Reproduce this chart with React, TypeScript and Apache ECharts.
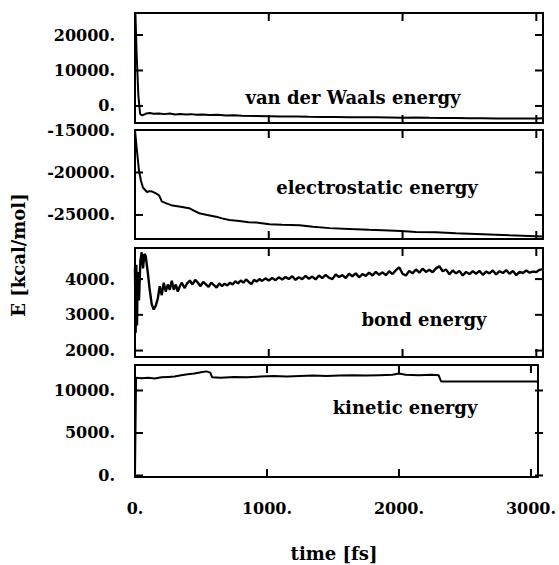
import React, { useEffect, useRef } from "react";
import * as echarts from "echarts";

// ---- data (time in fs, energy in kcal/mol) ----
const xTicks = [0, 1000, 2000, 3000];

const vdwTicks = [0, 10000, 20000];
const vdwData: [number, number][] = [
  [0, 30000], [12, 15000], [25, 3000], [38, -2200], [50, -2600], [65, -2500],
  [85, -2100], [110, -2000], [140, -2200], [180, -2100], [220, -2300], [260, -2150],
  [300, -2400], [340, -2250], [380, -2400], [420, -2300], [460, -2500], [500, -2400],
  [560, -2550], [620, -2500], [680, -2700], [740, -2650], [800, -2750], [900, -2800],
  [1000, -2900], [1100, -3000], [1200, -2950], [1300, -3050], [1400, -3100], [1500, -3100],
  [1600, -3150], [1700, -3200], [1800, -3200], [1900, -3250], [2000, -3300], [2100, -3250],
  [2200, -3350], [2300, -3400], [2400, -3400], [2500, -3450], [2600, -3450], [2700, -3500],
  [2800, -3500], [2900, -3550], [3000, -3550], [3050, -3450],
];

const elecTicks = [-25000, -20000, -15000];
const elecData: [number, number][] = [
  [0, -15000], [15, -17500], [30, -19800], [45, -21000], [60, -21800], [90, -22300],
  [110, -22200], [130, -22250], [160, -22500], [180, -22700], [200, -23400], [230, -23600],
  [280, -23900], [330, -24000], [405, -24200], [440, -24500], [480, -24800], [540, -25000],
  [606, -25200], [650, -25400], [705, -25600], [780, -25700], [850, -25850], [906, -25900],
  [1005, -26100], [1100, -26150], [1230, -26200], [1330, -26400], [1455, -26550], [1600, -26650],
  [1750, -26750], [1850, -26800], [1990, -26900], [2100, -27000], [2250, -27050], [2400, -27150],
  [2500, -27200], [2650, -27300], [2800, -27400], [2990, -27500], [3050, -27550],
];

const bondTicks = [2000, 3000, 4000];
const bondData: [number, number][] = [
  [0, 4300], [5, 2500], [10, 4400], [15, 2700], [20, 4200], [30, 3400], [40, 4500],
  [50, 4750], [60, 4300], [70, 4700], [80, 4650], [95, 4200], [110, 3700], [125, 3300],
  [140, 3150], [155, 3250], [170, 3450], [185, 3800], [200, 3550], [215, 3900], [230, 3650],
  [245, 3850], [260, 3700], [275, 3950], [290, 3700], [305, 3850], [320, 3650], [335, 3800],
  [350, 3900], [370, 3750], [390, 3880], [410, 3960], [430, 3850], [450, 3980], [470, 3900],
  [490, 3800], [510, 3920], [530, 3850], [550, 3780], [570, 3900], [590, 3830], [610, 3760],
  [630, 3880], [650, 3800], [670, 3870], [690, 3820], [710, 3900], [730, 3850], [750, 3940],
  [770, 3880], [790, 3960], [810, 3900], [830, 3990], [850, 3920], [870, 3860], [890, 3980],
  [910, 3930], [930, 4000], [950, 3950], [975, 4020], [1000, 3960], [1025, 4030], [1050, 3970],
  [1075, 4050], [1100, 3990], [1125, 4060], [1150, 4000], [1175, 4080], [1200, 3980], [1225, 4050],
  [1250, 4000], [1275, 4090], [1300, 4010], [1325, 4070], [1350, 3990], [1375, 4100], [1400, 4030],
  [1425, 4120], [1450, 4040], [1475, 4000], [1500, 4130], [1525, 4060], [1550, 4110], [1575, 4030],
  [1600, 4150], [1625, 4080], [1650, 4160], [1675, 4050], [1700, 4140], [1725, 4090], [1750, 4180],
  [1775, 4100], [1800, 4200], [1825, 4120], [1850, 4190], [1875, 4110], [1900, 4220], [1925, 4140],
  [1950, 4250], [1975, 4330], [2000, 4150], [2025, 4100], [2050, 4230], [2075, 4160], [2100, 4270],
  [2125, 4180], [2150, 4290], [2175, 4200], [2200, 4260], [2225, 4190], [2250, 4300], [2275, 4360],
  [2300, 4220], [2325, 4270], [2350, 4130], [2375, 4240], [2400, 4160], [2425, 4230], [2450, 4100],
  [2475, 4200], [2500, 4140], [2525, 4220], [2550, 4150], [2575, 4230], [2600, 4120], [2625, 4210],
  [2650, 4160], [2675, 4240], [2700, 4130], [2725, 4220], [2750, 4170], [2775, 4250], [2800, 4150],
  [2825, 4230], [2850, 4110], [2875, 4200], [2900, 4170], [2925, 4240], [2950, 4180], [2975, 4210],
  [3000, 4200], [3025, 4260], [3050, 4280],
];

const kinTicks = [0, 5000, 10000];
const kinData: [number, number][] = [
  [0, 0], [8, 11500], [50, 11450], [100, 11500], [150, 11400], [200, 11550], [250, 11600],
  [300, 11650], [350, 11800], [400, 11900], [450, 12000], [500, 12150], [540, 12250],
  [570, 12100], [585, 11550], [650, 11500], [750, 11600], [850, 11550], [950, 11650],
  [1050, 11700], [1150, 11650], [1250, 11700], [1350, 11750], [1450, 11700], [1550, 11750],
  [1650, 11800], [1750, 11750], [1850, 11800], [1950, 11850], [2000, 12000], [2050, 11850],
  [2150, 11800], [2250, 11850], [2300, 11800], [2320, 11050], [2500, 11050], [3050, 11050],
];

const panelLabels = ["van der Waals energy", "electrostatic energy", "bond energy", "kinetic energy"];
const xTitle = "time [fs]";
const yTitle = "E [kcal/mol]";

export default function App() {
  const ref = useRef<HTMLDivElement>(null);
  useEffect(() => {
    if (!ref.current) return;
    const chart = echarts.init(ref.current, null, { renderer: "svg" });
    const FONT = "DejaVu Serif";
    const TL = 8;
    const LEFT = 135;
    const WIDTH = 408;
    const panels = [
      { top: 13, height: 110, min: -4800, max: 26200, ticks: vdwTicks, data: vdwData, lx: 353, ly: 97 },
      { top: 130, height: 109, min: -27830, max: -15000, ticks: elecTicks, data: elecData, lx: 377, ly: 187 },
      { top: 248, height: 109, min: 1820, max: 4870, ticks: bondTicks, data: bondData, lx: 424, ly: 319 },
      { top: 365, height: 112, min: -180, max: 13000, ticks: kinTicks, data: kinData, lx: 405, ly: 407 },
    ];
    const mkLine = () => ({ show: true, onZero: false, lineStyle: { color: "#000", width: 2 } });
    const grid: any[] = [];
    const xAxis: any[] = [];
    const yAxis: any[] = [];
    const series: any[] = [];
    const graphic: any[] = [];
    panels.forEach((p, i) => {
      grid.push({ left: LEFT, width: WIDTH, top: p.top, height: p.height });
      const last = i === panels.length - 1;
      xAxis.push({
        type: "value", gridIndex: i, position: "bottom", min: 0, max: 3050,
        axisLine: mkLine(), splitLine: { show: false }, axisTick: { show: false },
        axisLabel: {
          show: last, customValues: xTicks.slice(), margin: 23, color: "#000",
          fontFamily: FONT, fontWeight: "bold", fontSize: 16,
          formatter: (v: number) => `${v}.`,
        },
      });
      xAxis.push({
        type: "value", gridIndex: i, position: "top", min: 0, max: 3050,
        axisLine: mkLine(), splitLine: { show: false }, axisTick: { show: false },
        axisLabel: { show: false },
      });
      yAxis.push({
        type: "value", gridIndex: i, position: "left", min: p.min, max: p.max,
        axisLine: mkLine(), splitLine: { show: false }, axisTick: { show: false },
        axisLabel: {
          show: true, customValues: p.ticks.slice(), margin: 20, color: "#000",
          fontFamily: FONT, fontWeight: "bold", fontSize: 16,
          formatter: (v: number) => `${v}.`,
        },
      });
      yAxis.push({
        type: "value", gridIndex: i, position: "right", min: p.min, max: p.max,
        axisLine: mkLine(), splitLine: { show: false }, axisTick: { show: false },
        axisLabel: { show: false },
      });
      series.push({
        type: "line", xAxisIndex: 2 * i, yAxisIndex: 2 * i, data: p.data,
        showSymbol: false, symbol: "none", clip: true,
        lineStyle: { color: "#000", width: i === 2 ? 2.4 : 2 },
      });
      graphic.push({
        type: "text", x: p.lx, y: p.ly,
        style: {
          text: panelLabels[i], fill: "#000", font: `bold 18px "${FONT}"`,
          textAlign: "center", textVerticalAlign: "middle",
        },
      });
    });
    graphic.push({
      type: "text", x: 334, y: 553,
      style: { text: xTitle, fill: "#000", font: `bold 18px "${FONT}"`, textAlign: "center", textVerticalAlign: "middle" },
    });
    graphic.push({
      type: "text", x: 18, y: 255, rotation: Math.PI / 2,
      style: { text: yTitle, fill: "#000", font: `bold 18px "${FONT}"`, textAlign: "center", textVerticalAlign: "middle" },
    });
    chart.setOption({
      animation: false,
      backgroundColor: "#fff",
      grid, xAxis, yAxis, series, graphic,
    });

    // inward tick marks on all four sides, positioned through each axis' own scale
    const tickGraphics: any[] = [];
    const st = { stroke: "#000", lineWidth: 2 };
    panels.forEach((p, i) => {
      const top = p.top;
      const bottom = p.top + p.height;
      const right = LEFT + WIDTH;
      xTicks.forEach((v) => {
        const px = chart.convertToPixel({ xAxisIndex: 2 * i } as any, v) as unknown as number;
        if (typeof px !== "number" || isNaN(px)) return;
        tickGraphics.push({ type: "line", z: 100, shape: { x1: px, y1: bottom, x2: px, y2: bottom - TL }, style: st });
        tickGraphics.push({ type: "line", z: 100, shape: { x1: px, y1: top, x2: px, y2: top + TL }, style: st });
      });
      p.ticks.forEach((v) => {
        const py = chart.convertToPixel({ yAxisIndex: 2 * i } as any, v) as unknown as number;
        if (typeof py !== "number" || isNaN(py)) return;
        tickGraphics.push({ type: "line", z: 100, shape: { x1: LEFT, y1: py, x2: LEFT + TL, y2: py }, style: st });
        tickGraphics.push({ type: "line", z: 100, shape: { x1: right, y1: py, x2: right - TL, y2: py }, style: st });
      });
    });
    chart.setOption({ graphic: [...graphic, ...tickGraphics] });

    return () => chart.dispose();
  }, []);
  return (
    <div
      ref={ref}
      style={{ position: "fixed", left: 0, top: 0, width: 559, height: 565 }}
    />
  );
}
